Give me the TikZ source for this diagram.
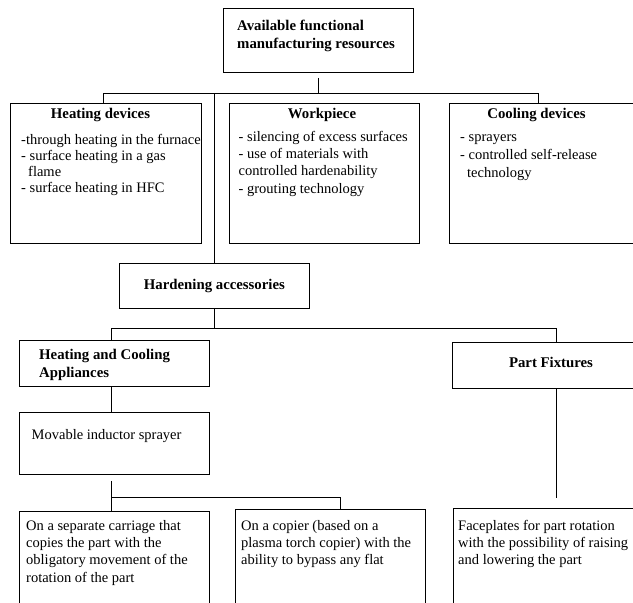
\documentclass[tikz,border=0pt]{standalone}
\usepackage{fontspec}
\setmainfont{Liberation Serif}
\usetikzlibrary{positioning, calc}
\newcommand{\topline}{\rule{0pt}{10.5pt}}

\begin{document}
\begin{tikzpicture}[x=1pt, y=-1pt,
    box/.style={rectangle, draw=black, line width=0.8pt, inner sep=0pt, anchor=north west},
    title/.style={font=\fontsize{14.8}{17}\selectfont\bfseries, anchor=north, inner sep=0pt},
    items/.style={font=\fontsize{14.5}{17.3}\selectfont, align=left, anchor=north west, inner sep=0pt},
    link/.style={draw=black, line width=0.8pt}
]
\useasboundingbox (0,0) rectangle (633,603);
\clip (0,0) rectangle (633,603);

% boxes
\node[box, minimum width=190pt, minimum height=64pt] (res) at (223,8) {};
\node[box, minimum width=191pt, minimum height=140pt] (heat) at (10,103) {};
\node[box, minimum width=190pt, minimum height=140pt] (work) at (229,103) {};
\node[box, minimum width=300pt, minimum height=140pt] (cool) at (449,103) {};
\node[box, minimum width=190pt, minimum height=45pt, font=\fontsize{14.8}{17}\selectfont\bfseries] (hard) at (119,263) {Hardening accessories};
\node[box, minimum width=190pt, minimum height=46pt] (hca) at (19,340) {};
\node[box, minimum width=300pt, minimum height=46pt] (fix) at (452,342) {};
\node[box, minimum width=190pt, minimum height=62pt] (mov) at (19,412) {};
\node[box, minimum width=190pt, minimum height=110pt] (carr) at (19,511) {};
\node[box, minimum width=190pt, minimum height=110pt] (copier) at (235,509) {};
\node[box, minimum width=300pt, minimum height=110pt] (face) at (453,508) {};

% texts
\node[items, font=\fontsize{14.8}{17.5}\selectfont\bfseries] (resText) at (237,20) {\topline Available functional\\manufacturing resources};
\node[title] (heatTitle) at (100.5,107.5) {\topline Heating devices};
\node[items, font=\fontsize{14.5}{16.2}\selectfont] (heatList) at (21,133.5) {\topline -through heating in the furnace\\- surface heating in a gas\\\hspace*{7pt}flame\\- surface heating in HFC};
\node[title] (workTitle) at (322,107.5) {\topline Workpiece};
\node[items, font=\fontsize{14.5}{17.3}\selectfont] (workList) at (238.5,130.5) {\topline - silencing of excess surfaces\\- use of materials with\\controlled hardenability\\- grouting technology};
\node[title] (coolTitle) at (536.5,107.5) {\topline Cooling devices};
\node[items, font=\fontsize{14.5}{18}\selectfont] (coolList) at (460,130.5) {\topline - sprayers\\- controlled self-release\\\hspace*{7pt}technology};
\node[items, font=\fontsize{14.8}{18}\selectfont\bfseries] (hcaText) at (39,348.5) {\topline Heating and Cooling\\Appliances};
\node[title] (fixTitle) at (551,356.5) {\topline Part Fixtures};
\node[items] (movText) at (31.5,428.5) {\topline Movable inductor sprayer};
\node[items] (carrText) at (26,519.5) {\topline On a separate carriage that\\copies the part with the\\obligatory movement of the\\rotation of the part};
\node[items] (copierText) at (241,519.5) {\topline On a copier (based on a\\plasma torch copier) with the\\ability to bypass any flat};
\node[items] (faceText) at (458,519.5) {\topline Faceplates for part rotation\\with the possibility of raising\\and lowering the part};

% connectors
\coordinate (busL) at (103,93);
\coordinate (busM) at (214,93);
\coordinate (busR) at (538,93);
\draw[link, shorten <=5pt] (res.south) -- (res.south |- busL);
\draw[link] (heat.north -| busL) -- (busL) -- (busR) -- (cool.north -| busR);
\draw[link] (busM) -- (hard.north -| busM);

\coordinate (forkL) at (111.5,328);
\coordinate (forkR) at (556,328);
\draw[link] (hard.south) -- (hard.south |- forkL);
\draw[link] (hca.north -| forkL) -- (forkL) -- (forkR) -- (fix.north -| forkR);
\draw[link] (hca.south -| forkL) -- (mov.north -| forkL);
\draw[link, shorten >=10pt] (fix.south -| forkR) -- (face.north -| forkR);

\coordinate (splitL) at (111.5,497);
\coordinate (splitR) at (340,497);
\draw[link, shorten <=6pt] (mov.south -| splitL) -- (splitL);
\draw[link] (splitL) -- (splitR) -- (copier.north -| splitR);
\draw[link] (splitL) -- (carr.north -| splitL);
\end{tikzpicture}
\end{document}
